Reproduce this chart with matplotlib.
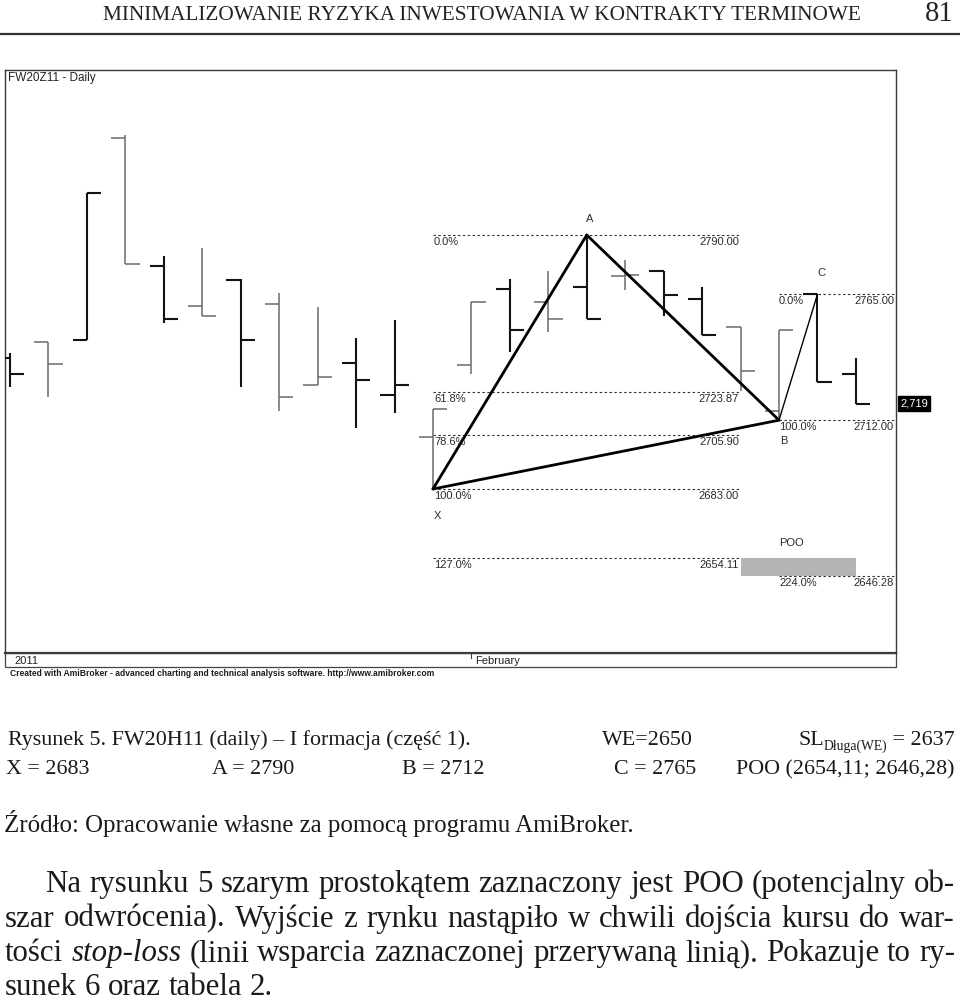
import matplotlib
matplotlib.use("Agg")
import matplotlib.pyplot as plt
from matplotlib.patches import Rectangle
import matplotlib.transforms as mtransforms

# ---------------- data ----------------
opens  = [2738.1, 2745.0, 2745.8, 2831.0, 2776.8, 2760.1, 2771.0, 2760.8, 2726.8, 2736.0, 2722.6, 2705.0,
          2735.1, 2767.1, 2761.8, 2768.0, 2772.7, 2775.0, 2763.0, 2751.2, 2715.7, 2765.0, 2731.6]
highs  = [2740.4, 2745.1, 2807.8, 2832.1, 2781.3, 2784.4, 2771.5, 2765.4, 2759.8, 2746.5, 2754.2, 2716.8,
          2761.6, 2771.6, 2774.8, 2790.0, 2779.5, 2775.0, 2768.2, 2751.2, 2749.9, 2765.0, 2738.3]
lows   = [2725.8, 2721.6, 2745.8, 2777.8, 2752.8, 2755.9, 2725.8, 2715.9, 2726.8, 2708.6, 2714.9, 2683.0,
          2731.4, 2740.7, 2749.0, 2754.7, 2766.8, 2755.9, 2747.7, 2724.4, 2712.0, 2728.0, 2719.0]
closes = [2731.6, 2735.8, 2807.8, 2777.8, 2754.6, 2755.9, 2745.8, 2721.8, 2730.1, 2728.9, 2726.7, 2716.8,
          2761.6, 2749.9, 2754.7, 2754.7, 2773.0, 2764.7, 2747.7, 2732.8, 2749.9, 2728.0, 2719.0]

pattern_names = ["X", "A", "B", "C"]
pattern_idx = [11, 15, 20, 21]
pattern_vals = [2683.0, 2790.0, 2712.0, 2765.0]

xa_pcts = ["0.0%", "61.8%", "78.6%", "100.0%", "127.0%"]
xa_vals = [2790.00, 2723.87, 2705.90, 2683.00, 2654.11]
bc_pcts = ["0.0%", "100.0%", "224.0%"]
bc_vals = [2765.00, 2712.00, 2646.28]
poo_zone = [2654.11, 2646.28]
last_price = 2719
month_labels = ["2011", "February"]
feb_idx = 12

title_chart = "FW20Z11 - Daily"
credit = "Created with AmiBroker - advanced charting and technical analysis software. http://www.amibroker.com"
header = "MINIMALIZOWANIE RYZYKA INWESTOWANIA W KONTRAKTY TERMINOWE"
page_no = "81"

# ---------------- styles ----------------
DARK, GRAY = "#141414", "#6a6a6a"
bar_colors = [DARK, GRAY, DARK, GRAY, DARK, GRAY, DARK, GRAY, GRAY, DARK, DARK, GRAY,
              GRAY, DARK, GRAY, DARK, GRAY, DARK, DARK, GRAY, GRAY, DARK, DARK]
bar_lw = [1.5 if c == DARK else 1.1 for c in bar_colors]
SANS = "Liberation Sans"
SERIF = "Liberation Serif"

W, H = 960, 1005
fig = plt.figure(figsize=(W / 100, H / 100), dpi=100)
fig.patch.set_facecolor("white")
page = fig.add_axes([0, 0, 1, 1])
page.set_xlim(0, W)
page.set_ylim(H, 0)
page.axis("off")

# chart axes: frame pixels x 5..896, y 70..653
L, T, R, B = 5, 70, 896, 653
ax = fig.add_axes([L / W, 1 - B / H, (R - L) / W, (B - T) / H])
px_per_bar = 38.45
x0_px = 10
ax.set_xlim((L - x0_px) / px_per_bar, (R - x0_px) / px_per_bar)
ppu = 2.374
ax.set_ylim(2790 - (B - 235) / ppu, 2790 + (235 - T) / ppu)
ax.set_xticks([])
ax.set_yticks([])
for s in ax.spines.values():
    s.set_color("#3a3a3a")
    s.set_linewidth(1.0)
ax.spines["bottom"].set_linewidth(1.6)

idx = list(range(len(opens)))
tick = 0.37
ax.vlines(idx, lows, highs, colors=bar_colors, linewidths=bar_lw, zorder=3)
ax.hlines(opens, [i - tick for i in idx], idx, colors=bar_colors, linewidths=bar_lw, zorder=3)
ax.hlines(closes, idx, [i + tick for i in idx], colors=bar_colors, linewidths=bar_lw, zorder=3)

# POO rectangle
ax.add_patch(Rectangle((19, poo_zone[1]), 3, poo_zone[0] - poo_zone[1],
                       facecolor="#b4b4b4", edgecolor="none", zorder=1))

# Fibonacci levels
dash = (0, (2.2, 2.2))
xa_end = (739 - x0_px) / px_per_bar
xr = ax.get_xlim()[1]
ax.hlines(xa_vals, pattern_idx[0], xa_end, colors="#333333", linewidths=0.8, linestyles=dash, zorder=2)
ax.hlines(bc_vals, pattern_idx[2], xr, colors="#333333", linewidths=0.8, linestyles=dash, zorder=2)

lab = dict(fontsize=8, family=SANS, color="#2a2a2a", textcoords="offset pixels", zorder=5)
for p, v in zip(xa_pcts, xa_vals):
    ax.annotate(p, (pattern_idx[0], v), xytext=(1, -2), ha="left", va="top", **lab)
    ax.annotate(f"{v:.2f}", (xa_end, v), xytext=(0, -2), ha="right", va="top", **lab)
for p, v in zip(bc_pcts, bc_vals):
    ax.annotate(p, (pattern_idx[2], v), xytext=(0, -2), ha="left", va="top", **lab)
    ax.annotate(f"{v:.2f}", (xr, v), xytext=(-2, -2), ha="right", va="top", **lab)

# pattern lines
X, A, Bp, C = list(zip(pattern_idx, pattern_vals))
for p1, p2 in [(X, A), (A, Bp), (X, Bp)]:
    ax.plot([p1[0], p2[0]], [p1[1], p2[1]], color="#000000", lw=2.0, zorder=4,
            solid_capstyle="round")
ax.plot([Bp[0], C[0]], [Bp[1], C[1]], color="#000000", lw=1.0, zorder=4)

offs = {"X": (1, -27, "left"), "A": (3, 16, "center"), "B": (1, -21, "left"), "C": (4, 21, "center")}
for n, i, v in zip(pattern_names, pattern_idx, pattern_vals):
    dx, dy, ha = offs[n]
    ax.annotate(n, (i, v), xytext=(dx, dy), ha=ha, va="center", **lab)
ax.annotate("POO", (pattern_idx[2], poo_zone[0]), xytext=(0, 15), ha="left", va="center", **lab)

# last price tag
ax.annotate(f"{last_price:,}", (1, last_price), xycoords=("axes fraction", "data"),
            xytext=(4, 0), textcoords="offset pixels", ha="left", va="center",
            fontsize=8, family=SANS, color="white", annotation_clip=False,
            bbox=dict(boxstyle="square,pad=0.2", facecolor="black", edgecolor="black"))

ax.text(3 / (R - L), 1 - 8 / (B - T), title_chart, transform=ax.transAxes, ha="left", va="center",
        fontsize=8.5, family=SANS, color="#222222")

# date strip
page.add_patch(Rectangle((L, B), R - L, 14, facecolor="none", edgecolor="#444444", lw=0.9))
bt = mtransforms.blended_transform_factory(ax.transData, page.transData)
page.plot([feb_idx, feb_idx], [B + 1, B + 5], color="#444444", lw=0.8, transform=bt, clip_on=False)
page.text(14, 660.5, month_labels[0], ha="left", va="center", fontsize=8, family=SANS, color="#222222")
page.text(feb_idx, 660.5, month_labels[1], ha="left", va="center", fontsize=8, family=SANS,
          color="#222222", transform=bt + mtransforms.ScaledTranslation(4 / 100, 0, fig.dpi_scale_trans))

# ---------------- page text ----------------
fig.canvas.draw()
rend = fig.canvas.get_renderer()


def measure(s, fs, family=SERIF, style="normal", weight="normal"):
    t = page.text(0, 0, s, fontsize=fs, family=family, style=style, weight=weight)
    w = t.get_window_extent(rend).width
    t.remove()
    return w


def fit_size(s, width, family=SERIF, style="normal", weight="normal"):
    return 20 * width / measure(s, 20, family, style, weight)


# credit line
fs_cr = fit_size(credit, 422, SANS, weight="bold")
page.text(10, 673.5, credit, ha="left", va="center", fontsize=fs_cr, family=SANS,
          weight="bold", color="#1a1a1a")

# header
fs_h = fit_size(header, 755)
page.text(103, 15, header, ha="left", va="center", fontsize=fs_h, family=SERIF, color="#222222")
page.text(953, 14, page_no, ha="right", va="center", fontsize=fs_h * 1.35, family=SERIF, color="#222222")
page.plot([0, W], [33.5, 33.5], color="#333333", lw=1.6)

# caption
cap1 = "Rysunek 5. FW20H11 (daily) – I formacja (część 1)."
fs_c = fit_size(cap1, 462)
ykw = dict(va="baseline", family=SERIF, color="#1a1a1a")
y1, y2 = 745, 774
page.text(8, y1, cap1, fontsize=fs_c, **ykw)
page.text(602, y1, "WE=2650", fontsize=fs_c, **ykw)
# SL with subscript, right-aligned to x = 955
sub_fs = fs_c * 0.62
w_sl = measure("SL", fs_c)
w_sub = measure("Długa(WE)", sub_fs)
w_eq = measure(" = 2637", fs_c)
xs = 955 - (w_sl + w_sub + w_eq)
page.text(xs, y1, "SL", fontsize=fs_c, **ykw)
page.text(xs + w_sl, y1 + 5, "Długa(WE)", fontsize=sub_fs, **ykw)
page.text(955, y1, " = 2637", fontsize=fs_c, ha="right", **ykw)

cap2 = [("X = 2683", 6), ("A = 2790", 212), ("B = 2712", 402), ("C = 2765", 614)]
for s, x in cap2:
    page.text(x, y2, s, fontsize=fs_c, **ykw)
page.text(955, y2, "POO (2654,11; 2646,28)", fontsize=fs_c, ha="right", **ykw)

src = "Źródło: Opracowanie własne za pomocą programu AmiBroker."
fs_s = fit_size(src, 627)
page.text(4, 832, src, fontsize=fs_s, **ykw)

# body paragraph (justified)
body = [
    ("Na rysunku 5 szarym prostokątem zaznaczony jest POO (potencjalny ob-", 45, True),
    ("szar odwrócenia). Wyjście z rynku nastąpiło w chwili dojścia kursu do war-", 5, True),
    ("tości stop-loss (linii wsparcia zaznaczonej przerywaną linią). Pokazuje to ry-", 5, True),
    ("sunek 6 oraz tabela 2.", 5, False),
]
italic_words = {"stop-loss"}
fs_b = fit_size(body[1][0], 950 * 0.985)
ys = [892, 926.5, 961, 995]
for (line, x0, just), yb in zip(body, ys):
    words = line.split(" ")
    styles = ["italic" if w in italic_words else "normal" for w in words]
    widths = [measure(w, fs_b, SERIF, st) for w, st in zip(words, styles)]
    if just:
        gap = (955 - x0 - sum(widths)) / (len(words) - 1)
    else:
        gap = measure("a b", fs_b) - measure("ab", fs_b)
    x = x0
    for w, st, wd in zip(words, styles, widths):
        page.text(x, yb, w, fontsize=fs_b, style=st, **ykw)
        x += wd + gap

fig.savefig("out.png", dpi=100, facecolor="white")
